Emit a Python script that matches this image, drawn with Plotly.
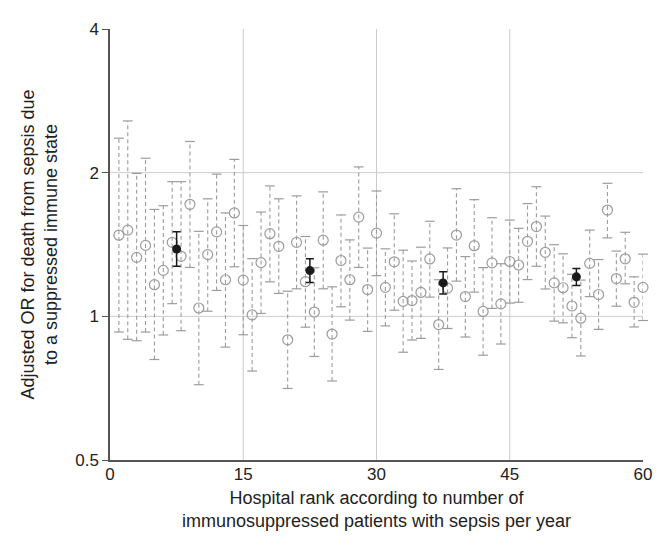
import plotly.graph_objects as go

# Hospital-level adjusted OR with 95% CI (log scale), ranks 1..60
rank = list(range(1, 61))
or_val = [1.479, 1.516, 1.329, 1.408, 1.165, 1.248, 1.429, 1.336, 1.717, 1.041,
          1.347, 1.503, 1.193, 1.647, 1.191, 1.007, 1.296, 1.490, 1.402, 0.893,
          1.429, 1.182, 1.021, 1.444, 0.918, 1.309, 1.193, 1.614, 1.138, 1.494,
          1.150, 1.301, 1.075, 1.079, 1.122, 1.319, 0.961, 1.146, 1.480, 1.100,
          1.406, 1.024, 1.294, 1.062, 1.303, 1.281, 1.436, 1.542, 1.362, 1.175,
          1.148, 1.051, 0.991, 1.291, 1.111, 1.67, 1.20, 1.32, 1.07, 1.15]
ci_low = [0.927, 0.895, 0.889, 0.927, 0.812, 0.914, 1.063, 0.933, 1.266, 0.719,
          1.025, 1.133, 0.862, 1.270, 0.915, 0.768, 1.014, 1.181, 1.117, 0.706,
          1.142, 0.949, 0.824, 1.142, 0.732, 1.047, 0.982, 1.266, 0.930, 1.217,
          0.955, 1.030, 0.841, 0.892, 0.899, 1.097, 0.774, 0.943, 1.185, 0.905,
          1.124, 0.829, 1.039, 0.875, 1.066, 1.070, 1.194, 1.273, 1.141, 0.977,
          0.969, 0.902, 0.826, 1.100, 0.939, 1.46, 1.05, 1.17, 0.95, 0.98]
ci_high = [2.362, 2.567, 1.993, 2.144, 1.675, 1.705, 1.915, 1.915, 2.325, 1.507,
           1.763, 1.986, 1.647, 2.132, 1.550, 1.321, 1.654, 1.876, 1.763, 1.129,
           1.788, 1.470, 1.264, 1.823, 1.153, 1.631, 1.446, 2.056, 1.390, 1.831,
           1.385, 1.640, 1.376, 1.306, 1.396, 1.582, 1.193, 1.391, 1.851, 1.334,
           1.756, 1.265, 1.609, 1.289, 1.591, 1.529, 1.723, 1.869, 1.622, 1.413,
           1.352, 1.225, 1.191, 1.516, 1.315, 1.90, 1.37, 1.50, 1.21, 1.35]

# Group (quartile) pooled estimates
grp_x = [7.5, 22.5, 37.5, 52.5]
grp_or = [1.384, 1.247, 1.175, 1.210]
grp_low = [1.274, 1.177, 1.114, 1.161]
grp_high = [1.504, 1.320, 1.240, 1.259]

x_ticks = [0, 15, 30, 45, 60]
y_ticks = [0.5, 1, 2, 4]
y_tick_text = ["0.5", "1", "2", "4"]

GREY = "#9c9c9c"
DARK = "#1a1a1a"
FONT = "Liberation Sans, Arial, sans-serif"

fig = go.Figure()

# dashed CI segments
seg_x, seg_y = [], []
for xi, lo, hi in zip(rank, ci_low, ci_high):
    seg_x += [xi, xi, None]
    seg_y += [lo, hi, None]
fig.add_trace(go.Scatter(x=seg_x, y=seg_y, mode="lines",
                         line=dict(color=GREY, width=1.1, dash="4px,3px"),
                         hoverinfo="skip", showlegend=False, cliponaxis=False))
# caps
fig.add_trace(go.Scatter(x=rank + rank, y=ci_low + ci_high, mode="markers",
                         marker=dict(symbol="line-ew", size=7, color=GREY,
                                     line=dict(color=GREY, width=1.2)),
                         hoverinfo="skip", showlegend=False, cliponaxis=False))
# open circles
fig.add_trace(go.Scatter(x=rank, y=or_val, mode="markers",
                         marker=dict(symbol="circle-open", size=10, color=GREY,
                                     line=dict(color=GREY, width=1.2)),
                         showlegend=False, cliponaxis=False))
# group estimates
fig.add_trace(go.Scatter(
    x=grp_x, y=grp_or, mode="markers",
    marker=dict(symbol="circle", size=9, color=DARK),
    error_y=dict(type="data", symmetric=False,
                 array=[h - o for h, o in zip(grp_high, grp_or)],
                 arrayminus=[o - l for o, l in zip(grp_or, grp_low)],
                 color=DARK, thickness=1.5, width=4),
    showlegend=False))

# interior grid lines
for gx in x_ticks[1:-1]:
    fig.add_shape(type="line", xref="x", yref="paper", x0=gx, x1=gx, y0=0, y1=1,
                  line=dict(color="#cccccc", width=1), layer="below")
for gy in y_ticks[1:-1]:
    fig.add_shape(type="line", xref="paper", yref="y", x0=0, x1=1,
                  y0=gy, y1=gy,
                  line=dict(color="#cccccc", width=1), layer="below")

# page body adds an 8px margin, so the figure is sized/offset to compensate
fig.update_layout(
    width=656, height=544,
    margin=dict(l=102, r=14, t=13, b=92),
    paper_bgcolor="white", plot_bgcolor="white",
    font=dict(family=FONT, size=17, color="#222222"),
    xaxis=dict(range=[0, 60], tickvals=x_ticks, showgrid=False, zeroline=False,
               showline=True, linecolor="#555555", linewidth=1.5,
               ticks="", ticklabelstandoff=-2,
               tickfont=dict(size=17),
               title=dict(text="Hospital rank according to number of<br>immunosuppressed patients with sepsis per year",
                          font=dict(size=18), standoff=8)),
    yaxis=dict(type="log", range=[-0.30103, 0.60206],
               tickvals=y_ticks, ticktext=y_tick_text,
               showgrid=False, zeroline=False,
               showline=True, linecolor="#555555", linewidth=1.5,
               ticks="outside", ticklen=6, tickcolor="#555555", tickwidth=1.2,
               tickfont=dict(size=17),
               title=dict(text="Adjusted OR for death from sepsis due<br>to a suppressed immune state",
                          font=dict(size=18), standoff=13)),
)

fig.write_html("out.html")
